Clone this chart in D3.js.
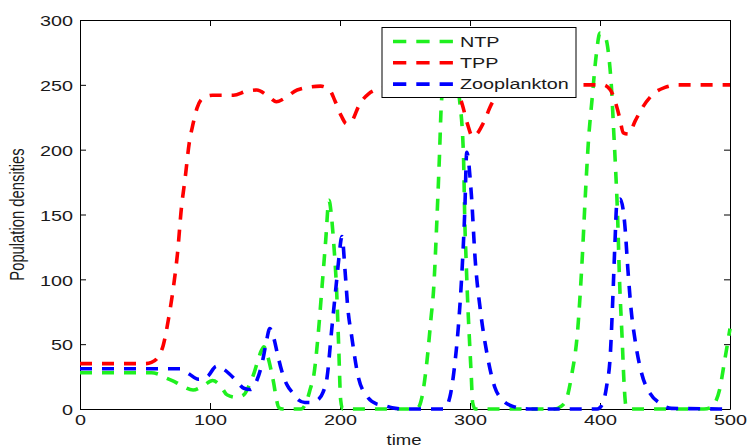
<!DOCTYPE html>
<html>
<head>
<meta charset="utf-8">
<script src="https://cdn.jsdelivr.net/npm/d3@7"></script>
<style>
  html, body { margin: 0; padding: 0; background: #ffffff; }
  svg { display: block; }
  text { font-family: "Liberation Sans", Arial, sans-serif; fill: #1a1a1a; }
</style>
</head>
<body>
<svg id="chart" width="748" height="448"></svg>
<script>
// ---------------- data ----------------
const xTicks = [0, 100, 200, 300, 400, 500];
const yTicks = [0, 50, 100, 150, 200, 250, 300];
const xLabel = "time";
const yLabel = "Population densities";
const seriesNames = ["NTP", "TPP", "Zooplankton"];
const seriesColors = ["#1ff01f", "#ff0000", "#0000ff"];

const ntpTime = [0, 55, 60, 66, 73, 80, 87, 95, 102, 108, 113, 120, 126, 130, 134, 137, 139.5, 141.5, 144, 147, 149, 151, 153, 156, 170, 174, 177, 180, 183, 186, 189, 191.5, 193.5, 195, 197.5, 199, 200.5, 202, 255, 260, 263, 267, 270, 272, 274.5, 276.5, 278, 281, 285, 289, 292, 295, 296, 297, 298.5, 300, 301, 302, 304, 365, 370, 374, 378, 383, 386, 389, 391, 394, 397, 400, 404, 407, 409, 410.5, 412, 413.5, 415, 417, 418.5, 420, 422, 480, 485, 488, 492, 496, 500];
const ntpValues = [28, 28, 27, 24, 21, 17, 14.6, 18, 22, 18, 11, 9, 11, 18, 28, 38, 45, 48, 42, 30, 20, 8, 1, 0, 0, 5, 15, 27, 55, 92, 130, 161, 148, 130, 89, 48, 7, 0, 0, 1, 9, 38, 70, 92, 145, 195, 236, 258, 265, 255, 238, 195, 145, 115, 76, 45, 25, 5, 0, 0, 2, 7, 25, 63, 110, 170, 205, 240, 272, 290, 287, 270, 245, 215, 185, 150, 100, 55, 20, 2, 0, 0, 1, 4, 15, 38, 62];

const tppTime = [0, 50, 55, 60, 64, 68, 72, 75, 78, 81, 84, 87, 90, 95, 102, 118, 128, 136, 145, 151, 158, 167, 185, 192, 196, 201, 205, 209, 215, 222, 231, 250, 285, 290, 294, 298, 302, 306, 310, 317, 325, 335, 380, 402, 408, 412, 415, 418, 422, 427, 433, 441, 450, 460, 500];
const tppValues = [35, 35, 36, 40, 49, 69, 95, 120, 155, 179, 205, 220, 232, 240, 242, 242, 245, 246, 241, 237, 240, 246, 249, 246, 238, 226, 220, 222, 235, 243, 247, 249, 249, 246, 235, 220, 210, 213, 220, 236, 246, 249, 250, 250, 246, 236, 225, 213, 212, 222, 233, 243, 248, 250, 250];

const zooTime = [0, 60, 70, 77, 84, 91, 98, 105, 110, 115, 120, 126, 131, 136, 140, 143, 146, 149, 152, 155, 159, 164, 168, 173, 178, 183, 187, 190, 193.6, 197.5, 199, 201.5, 204, 206, 209, 214, 221, 228, 233, 240, 250, 280, 284.6, 288, 291, 293.6, 296, 297.5, 301, 304, 308, 313, 319, 325, 333, 345, 398, 402, 405, 408, 410, 411.5, 413, 415.5, 419, 421.5, 424, 427, 432, 438.5, 446, 455, 500];
const zooValues = [31, 31, 31, 31, 27, 23, 25, 33, 31, 27, 22, 16, 15, 22, 35, 50, 62, 55, 42, 30, 19, 12, 7, 5, 5, 7, 13, 24, 61, 100, 115, 133, 105, 78, 56, 25, 9.5, 4, 3, 1, 0, 0, 9.5, 32, 63, 102, 153, 198, 166, 115, 76, 43, 17, 7, 2, 0, 0, 4, 17, 43, 89, 128, 159, 162, 143, 107, 76, 53, 27.6, 12, 4.5, 0.5, 0];

// ---------------- chart ----------------
const svg = d3.select("#chart");
const FONT = 15, SX = 1.32;

const x = d3.scaleLinear().domain([0, 500]).range([80, 730]);
const y = d3.scaleLinear().domain([0, 300]).range([409, 20]);

function styleAxis(g) {
  g.attr("font-size", null).attr("font-family", null);
  g.select(".domain").attr("stroke", "#000").attr("stroke-width", 1);
  g.selectAll(".tick line").attr("stroke", "#000").attr("stroke-width", 1);
}

// box + ticks (inward, MATLAB style)
svg.append("g").attr("transform", `translate(0,${y(0)})`)
  .call(d3.axisBottom(x).tickValues(xTicks).tickSizeInner(-6).tickSizeOuter(0))
  .call(styleAxis)
  .call(g => g.selectAll(".tick text")
    .attr("y", 5).attr("dy", "0.71em")
    .attr("font-size", FONT)
    .attr("transform", `scale(${SX},1)`));

svg.append("g").attr("transform", `translate(0,${y(300)})`)
  .call(d3.axisTop(x).tickValues(xTicks).tickSizeInner(-6).tickSizeOuter(0).tickFormat(""))
  .call(styleAxis);

svg.append("g").attr("transform", `translate(${x(0)},0)`)
  .call(d3.axisLeft(y).tickValues(yTicks).tickSizeInner(-6).tickSizeOuter(0))
  .call(styleAxis)
  .call(g => g.selectAll(".tick text")
    .attr("x", -7 / SX).attr("dy", "0.38em")
    .attr("font-size", FONT)
    .attr("transform", `scale(${SX},1)`));

svg.append("g").attr("transform", `translate(${x(500)},0)`)
  .call(d3.axisRight(y).tickValues(yTicks).tickSizeInner(-6).tickSizeOuter(0).tickFormat(""))
  .call(styleAxis);

// axis titles
svg.append("text")
  .attr("transform", `translate(404,445) scale(${SX - 0.04},1)`)
  .attr("text-anchor", "middle")
  .attr("font-size", 14.5)
  .text(xLabel);

svg.append("text")
  .attr("transform", `translate(24,214.5) scale(${SX},1) rotate(-90)`)
  .attr("text-anchor", "middle")
  .attr("font-size", 14.8)
  .text(yLabel);

// lines
const series = [
  { name: seriesNames[0], color: seriesColors[0], t: ntpTime, v: ntpValues },
  { name: seriesNames[1], color: seriesColors[1], t: tppTime, v: tppValues },
  { name: seriesNames[2], color: seriesColors[2], t: zooTime, v: zooValues }
];

const line = d3.line()
  .x(d => x(d[0]))
  .y(d => y(d[1]))
  .curve(d3.curveMonotoneX);

svg.append("g").selectAll("path")
  .data(series)
  .join("path")
  .attr("d", s => line(s.t.map((t, i) => [t, s.v[i]])))
  .attr("fill", "none")
  .attr("stroke", s => s.color)
  .attr("stroke-width", 3.6)
  .attr("stroke-dasharray", "12,10");

// legend
const lg = svg.append("g");
lg.append("rect")
  .attr("x", 382).attr("y", 27.5)
  .attr("width", 194).attr("height", 70)
  .attr("fill", "#fff").attr("stroke", "#000").attr("stroke-width", 1);

const rowY = [41.5, 62.8, 84.1];
const items = lg.selectAll("g.item").data(series).join("g").attr("class", "item");
items.append("line")
  .attr("x1", 393).attr("x2", 453)
  .attr("y1", (d, i) => rowY[i]).attr("y2", (d, i) => rowY[i])
  .attr("stroke", d => d.color)
  .attr("stroke-width", 3.6)
  .attr("stroke-dasharray", "13.3,10");
items.append("text")
  .attr("transform", (d, i) => `translate(460,${rowY[i] + 5.3}) scale(${SX},1)`)
  .attr("font-size", FONT)
  .text(d => d.name);
</script>
</body>
</html>
